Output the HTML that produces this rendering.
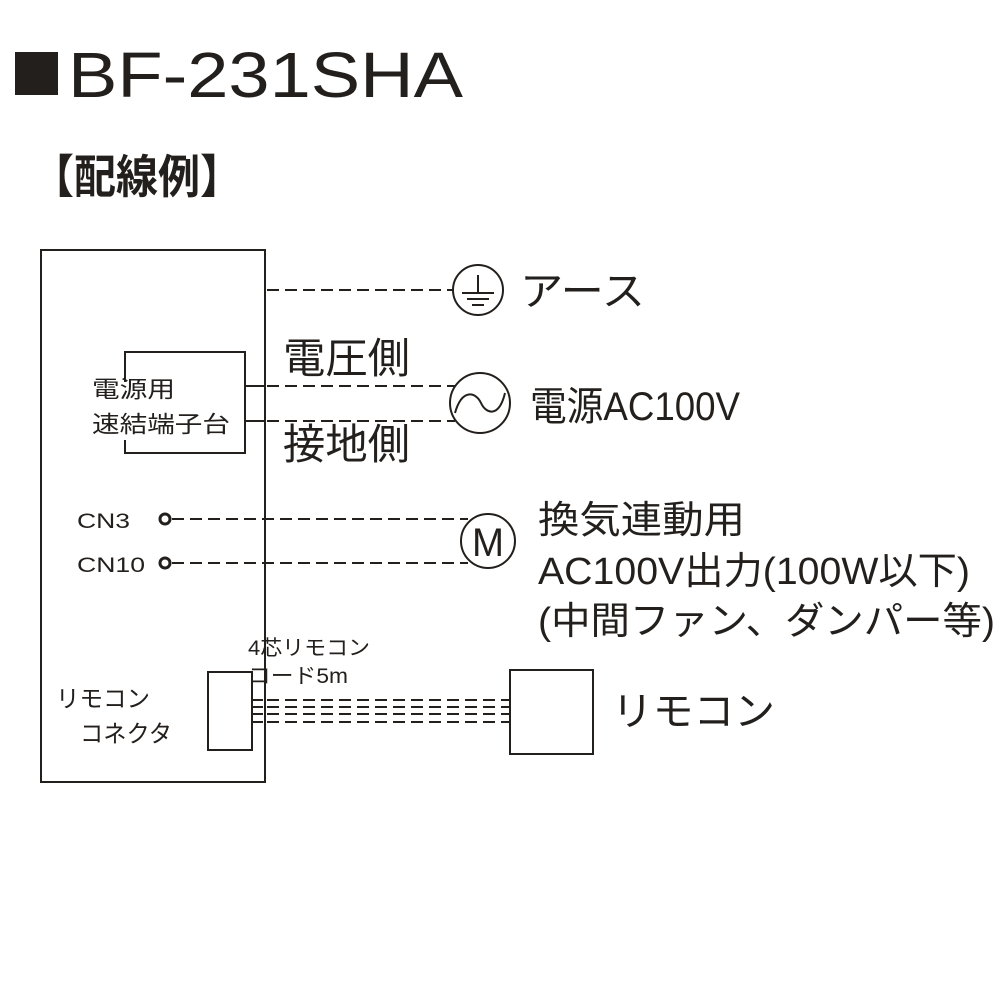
<!DOCTYPE html>
<html><head><meta charset="utf-8"><style>
html,body{margin:0;padding:0;background:#fff;}
svg{display:block;}
text{fill:#231f1c;font-family:"Liberation Sans","Noto Sans CJK JP",sans-serif;}
</style></head><body>
<svg width="1000" height="1000" viewBox="0 0 1000 1000" xmlns="http://www.w3.org/2000/svg">
<rect x="15" y="52" width="43" height="43" fill="#231f1c"/>
<text x="68" y="97" font-size="64" textLength="395" lengthAdjust="spacingAndGlyphs">BF-231SHA</text>
<text x="32" y="193" font-size="46" font-weight="bold" textLength="210" lengthAdjust="spacingAndGlyphs">【配線例】</text>

<g fill="none" stroke="#231f1c" stroke-width="2">
<rect x="41" y="250" width="224" height="532"/>
<polyline points="125,382 125,352 245,352 245,453 125,453 125,440"/>
<rect x="208" y="672" width="44" height="78"/>
<rect x="510" y="670" width="83" height="84"/>
<circle cx="478" cy="290" r="25"/>
<circle cx="480" cy="403" r="30"/>
<circle cx="488" cy="541" r="27"/>
<circle cx="165" cy="519" r="5" stroke-width="3"/>
<circle cx="165" cy="563" r="5" stroke-width="3"/>
<line x1="478" y1="275" x2="478" y2="293"/>
<line x1="462" y1="293" x2="494" y2="293"/>
<line x1="467" y1="299" x2="489" y2="299"/>
<line x1="472" y1="305" x2="484" y2="305"/>
<path d="M455,413 C462,388 476,392 481,403 C486,414 499,418 505,393"/>
<line x1="245" y1="386" x2="265" y2="386"/>
<line x1="245" y1="421" x2="265" y2="421"/>
<line x1="252" y1="700" x2="263" y2="700"/>
<line x1="252" y1="707" x2="263" y2="707"/>
<line x1="252" y1="714" x2="263" y2="714"/>
<line x1="252" y1="722" x2="263" y2="722"/>
<g stroke-dasharray="12,6">
<line x1="267" y1="290" x2="453" y2="290"/>
<line x1="267" y1="386" x2="455" y2="386"/>
<line x1="267" y1="421" x2="455" y2="421"/>
<line x1="172" y1="519" x2="468" y2="519"/>
<line x1="172" y1="563" x2="468" y2="563"/>
<line x1="267" y1="700" x2="510" y2="700"/>
<line x1="267" y1="707" x2="510" y2="707"/>
<line x1="267" y1="714" x2="510" y2="714"/>
<line x1="267" y1="722" x2="510" y2="722"/>
</g>
</g>
<text x="472" y="556" font-size="40" textLength="32" lengthAdjust="spacingAndGlyphs">M</text>

<text x="520" y="305" font-size="40" textLength="125" lengthAdjust="spacingAndGlyphs">アース</text>
<text x="283" y="373" font-size="42" textLength="127" lengthAdjust="spacingAndGlyphs">電圧側</text>
<text x="283" y="459" font-size="42" textLength="127" lengthAdjust="spacingAndGlyphs">接地側</text>
<text x="530" y="420" font-size="40" textLength="210" lengthAdjust="spacingAndGlyphs">電源AC100V</text>
<text x="538" y="533" font-size="38" textLength="207" lengthAdjust="spacingAndGlyphs">換気連動用</text>
<text x="538" y="584" font-size="38" textLength="432" lengthAdjust="spacingAndGlyphs">AC100V出力(100W以下)</text>
<text x="538" y="634" font-size="38" textLength="457" lengthAdjust="spacingAndGlyphs">(中間ファン、ダンパー等)</text>
<text x="612" y="725" font-size="40" textLength="163" lengthAdjust="spacingAndGlyphs">リモコン</text>

<text x="92" y="397" font-size="23" textLength="83" lengthAdjust="spacingAndGlyphs">電源用</text>
<text x="92" y="432" font-size="23" textLength="138" lengthAdjust="spacingAndGlyphs">速結端子台</text>
<text x="77" y="528" font-size="21" textLength="53" lengthAdjust="spacingAndGlyphs">CN3</text>
<text x="77" y="572" font-size="21" textLength="68" lengthAdjust="spacingAndGlyphs">CN10</text>
<text x="248" y="655" font-size="21" textLength="122" lengthAdjust="spacingAndGlyphs">4芯リモコン</text>
<text x="248" y="683" font-size="21" textLength="100" lengthAdjust="spacingAndGlyphs">コード5m</text>
<text x="56" y="707" font-size="24" textLength="94" lengthAdjust="spacingAndGlyphs">リモコン</text>
<text x="80" y="742" font-size="24" textLength="92" lengthAdjust="spacingAndGlyphs">コネクタ</text>
</svg>
</body></html>
